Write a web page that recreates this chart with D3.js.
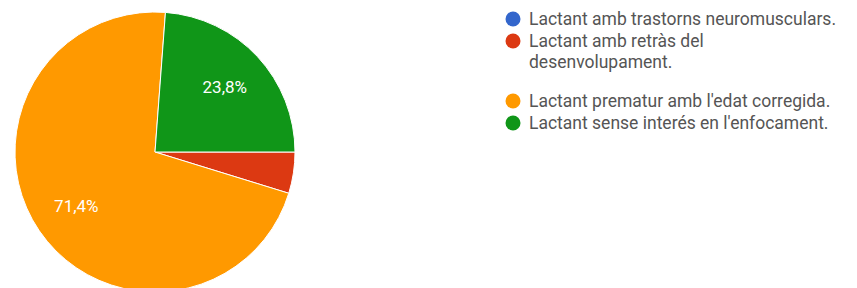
<!DOCTYPE html>
<meta charset="utf-8">
<script src="https://d3js.org/d3.v7.min.js"></script>
<style>
  body { margin: 0; background: #fff; }
</style>
<div id="my_dataviz"></div>
<script>

// data
var categories = [
  "Lactant amb trastorns neuromusculars.",
  "Lactant amb retràs del desenvolupament.",
  "Lactant prematur amb l'edat corregida.",
  "Lactant sense interés en l'enfocament."
];
var counts = [0, 1, 15, 5];
var colors = ["#3366cc", "#dc3912", "#ff9900", "#109618"];
// legend text, wrapped as in the picture
var legendLines = [
  ["Lactant amb trastorns neuromusculars."],
  ["Lactant amb retràs del", "desenvolupament."],
  ["Lactant prematur amb l'edat corregida."],
  ["Lactant sense interés en l'enfocament."]
];
var legendY = [19, 41, 101, 123];

var width = 857, height = 288;
var cx = 155, cy = 152, radius = 140;

var svg = d3.select("#my_dataviz")
  .append("svg")
    .attr("width", width)
    .attr("height", height);

var total = d3.sum(counts);

// pie starts at 3 o'clock and goes clockwise
var pie = d3.pie()
  .sort(null)
  .startAngle(Math.PI / 2)
  .endAngle(Math.PI / 2 + 2 * Math.PI)
  .value(function(d) { return d; });

var arc = d3.arc().innerRadius(0).outerRadius(radius);
var labelArc = d3.arc().innerRadius(radius * 0.68).outerRadius(radius * 0.68);

var g = svg.append("g")
  .attr("transform", "translate(" + cx + "," + cy + ")");

var arcs = pie(counts);

g.selectAll("path")
  .data(arcs)
  .enter()
  .append("path")
    .attr("d", arc)
    .attr("fill", function(d, i) { return colors[i]; })
    .attr("stroke", "#fff")
    .attr("stroke-width", 1);

g.selectAll("text")
  .data(arcs.filter(function(d) { return d.value / total > 0.1; }))
  .enter()
  .append("text")
    .attr("transform", function(d) { return "translate(" + labelArc.centroid(d) + ")"; })
    .attr("text-anchor", "middle")
    .attr("dy", "0.35em")
    .attr("fill", "#fff")
    .style("font-family", "Roboto, Arial, sans-serif")
    .style("font-size", "17px")
    .text(function(d) {
      return (d.value / total * 100).toFixed(1).replace(".", ",") + "%";
    });

// legend
var legend = svg.append("g");
var items = legend.selectAll("g")
  .data(categories)
  .enter()
  .append("g")
    .attr("transform", function(d, i) { return "translate(513," + legendY[i] + ")"; });

items.append("circle")
  .attr("r", 7.5)
  .attr("fill", function(d, i) { return colors[i]; });

items.each(function(d, i) {
  var t = d3.select(this).append("text")
    .attr("x", 16)
    .attr("y", 0)
    .attr("fill", "#555")
    .style("font-family", "Roboto, Arial, sans-serif")
    .style("font-size", "17.5px");
  legendLines[i].forEach(function(line, j) {
    t.append("tspan")
      .attr("x", 16)
      .attr("dy", j === 0 ? "0.35em" : "21px")
      .text(line);
  });
});

</script>
